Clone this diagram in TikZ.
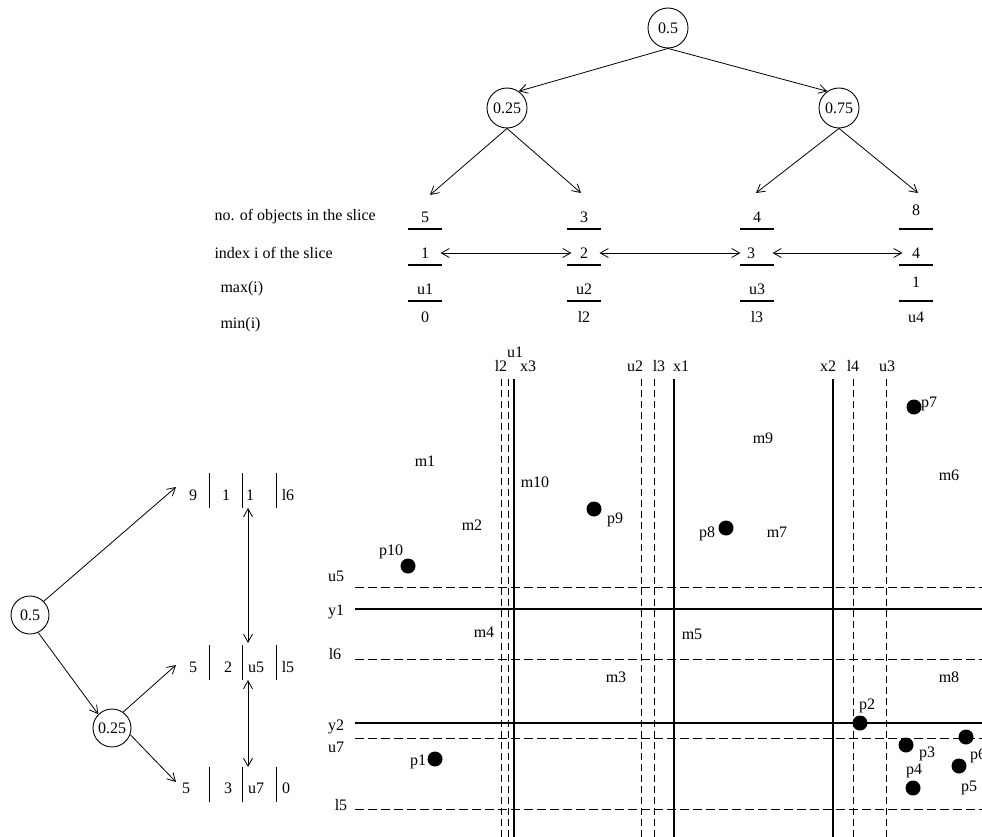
\documentclass[tikz,border=0pt]{standalone}
\usepackage{fontspec}
\setmainfont{Liberation Serif}
\usetikzlibrary{arrows.meta}
\begin{document}
\begin{tikzpicture}[x=1pt,y=-1pt, font=\fontsize{16}{19}\selectfont,
  circ/.style={draw, circle, minimum size=40pt, inner sep=0pt, line width=0.9pt},
  tip/.tip={Straight Barb[length=8pt,width=9pt]},
  arr/.style={-tip, line width=0.8pt},
  darr/.style={tip-tip, line width=0.8pt},
  rulel/.style={line width=1.1pt},
  hdash/.style={line width=1pt, dash pattern=on 9pt off 4pt},
  vdash/.style={line width=1pt, dash pattern=on 7pt off 4pt},
  sol/.style={line width=1.1pt},
  dot/.style={circle, fill=black, minimum size=15pt, inner sep=0pt},
  lab/.style={inner sep=1pt}]
\useasboundingbox (0,0) rectangle (982,837);

% ---------- top tree ----------
\node[circ] (r) at (668,28) {0.5};
\node[circ] (a) at (507,108) {0.25};
\node[circ] (b) at (839,108) {0.75};
\draw[arr] (r.south) -- (a.55);
\draw[arr] (r.south) -- (b.125);
\coordinate (c1t) at (430,195);
\coordinate (c2t) at (581,193);
\coordinate (c3t) at (756,193);
\coordinate (c4t) at (918,193);
\draw[arr] (a.south) -- (c1t);
\draw[arr] (a.south) -- (c2t);
\draw[arr] (b.south) -- (c3t);
\draw[arr] (b.south) -- (c4t);

% ---------- table ----------
\node[anchor=west] (t1) at (211,217) {no. of objects in the slice};
\node[anchor=west] (t2) at (211,253) {index i of the slice};
\node[anchor=west] (t3) at (217,289) {max(i)};
\node[anchor=west] (t4) at (217,325) {min(i)};

\node (n1) at (425,217) {5};
\node (i1) at (425,253) {1};
\node (u1) at (425,289) {u1};
\node (m1) at (425,317) {0};
\draw[rulel] (408,229) -- (442,229);
\draw[rulel] (408,265) -- (442,265);
\draw[rulel] (408,301) -- (442,301);

\node (n2) at (584,217) {3};
\node (i2) at (584,253) {2};
\node (u2) at (584,289) {u2};
\node (m2) at (584,317) {l2};
\draw[rulel] (567,229) -- (601,229);
\draw[rulel] (567,265) -- (601,265);
\draw[rulel] (567,301) -- (601,301);

\node (n3) at (757,217) {4};
\node (i3) at (751,253) {3};
\node (u3) at (757,289) {u3};
\node (m3) at (757,317) {l3};
\draw[rulel] (740,229) -- (774,229);
\draw[rulel] (740,265) -- (774,265);
\draw[rulel] (740,301) -- (774,301);

\node (n4) at (916,210) {8};
\node (i4) at (916,253) {4};
\node (u4) at (916,282) {1};
\node (m4) at (916,317) {u4};
\draw[rulel] (899,229) -- (933,229);
\draw[rulel] (899,265) -- (933,265);
\draw[rulel] (899,301) -- (933,301);

\draw[darr, shorten <=8pt, shorten >=5pt] (i1.east) -- (i2.west);
\draw[darr, shorten <=8pt, shorten >=3pt] (i2.east) -- (i3.west);
\draw[darr, shorten <=14pt, shorten >=6pt] (i3.east) -- (i4.west);

% ---------- left tree ----------
\node[circ, minimum size=38pt] (L) at (30,615) {0.5};
\node[circ, minimum size=38pt] (M) at (112,728) {0.25};
\coordinate (e1) at (176,487);
\coordinate (e2) at (176,665);
\coordinate (e3) at (176,782);
\draw[arr] (L.45) -- (e1);
\draw[arr] (L.-65) -- (M.135);
\draw[arr] (M.55) -- (e2);
\draw[arr] (M.-20) -- (e3);

\node (r1a) at (193,495) {9};
\node (r1b) at (226,495) {1};
\node (r1c) at (250,495) {1};
\node (r1d) at (288,495) {l6};
\node (r2a) at (193,667) {5};
\node (r2b) at (228,667) {2};
\node (r2c) at (256,667) {u5};
\node (r2d) at (288,667) {l5};
\node (r3a) at (186,788) {5};
\node (r3b) at (228,788) {3};
\node (r3c) at (256,788) {u7};
\node (r3d) at (286,788) {0};
\foreach \bx in {209,242,276}{
  \draw[line width=1pt] (\bx,473) -- (\bx,508);
  \draw[line width=1pt] (\bx,645) -- (\bx,680);
  \draw[line width=1pt] (\bx,767) -- (\bx,802);
}
\coordinate (va) at (248,508);
\coordinate (vb) at (248,643);
\coordinate (vc) at (248,680);
\coordinate (vd) at (248,767);
\draw[darr] (va) -- (vb);
\draw[darr] (vc) -- (vd);

% ---------- grid ----------
\foreach \yy in {587,659,738,809}{ \draw[hdash] (355,\yy) -- (982,\yy); }
\foreach \yy in {609,723}{ \draw[sol] (355,\yy) -- (982,\yy); }
\foreach \xx in {501,508,641,654,853,886}{ \draw[vdash] (\xx,379) -- (\xx,837); }
\foreach \xx in {514,674,833}{ \draw[sol] (\xx,379) -- (\xx,837); }

\node[lab] (gl2) at (501,366) {l2};
\node[lab] (gu1) at (515,352) {u1};
\node[lab] (gx3) at (528,366) {x3};
\node[lab] (gu2) at (635,366) {u2};
\node[lab] (gl3) at (659,366) {l3};
\node[lab] (gx1) at (681,366) {x1};
\node[lab] (gx2) at (828,366) {x2};
\node[lab] (gl4) at (853,366) {l4};
\node[lab] (gu3) at (887,366) {u3};

\node[lab] (gu5) at (336,576) {u5};
\node[lab] (gy1) at (336,612) {y1};
\node[lab] (gl6) at (335,654) {l6};
\node[lab] (gy2) at (336,727) {y2};
\node[lab] (gu7) at (336,747) {u7};
\node[lab] (gl5) at (341,805) {l5};

\node[lab] (mm1) at (425,461) {m1};
\node[lab] (mm10) at (535,482) {m10};
\node[lab] (mm2) at (472,525) {m2};
\node[lab] (mm9) at (763,438) {m9};
\node[lab] (mm6) at (949,475) {m6};
\node[lab] (mm7) at (777,532) {m7};
\node[lab] (mm4) at (484,632) {m4};
\node[lab] (mm5) at (692,634) {m5};
\node[lab] (mm3) at (616,677) {m3};
\node[lab] (mm8) at (949,677) {m8};

\node[dot] (p9) at (594,509) {};
\node[lab] at (615,520) {p9};
\node[dot] (p10) at (408,566) {};
\node[lab] at (391,552) {p10};
\node[dot] (p7) at (914,407) {};
\node[lab] at (929,404) {p7};
\node[dot] (p8) at (726,528) {};
\node[lab] at (707,534) {p8};
\node[dot] (p1) at (435,759) {};
\node[lab] at (418,762) {p1};
\node[dot] (p2) at (860,723) {};
\node[lab] at (867,706) {p2};
\node[dot] (p3) at (906,745) {};
\node[lab] at (927,754) {p3};
\node[dot] (p6) at (966,737) {};
\node[lab] at (978,756) {p6};
\node[dot] (p5) at (959,766) {};
\node[lab] at (969,788) {p5};
\node[dot] (p4) at (913,788) {};
\node[lab] at (914,771) {p4};
\end{tikzpicture}
\end{document}
